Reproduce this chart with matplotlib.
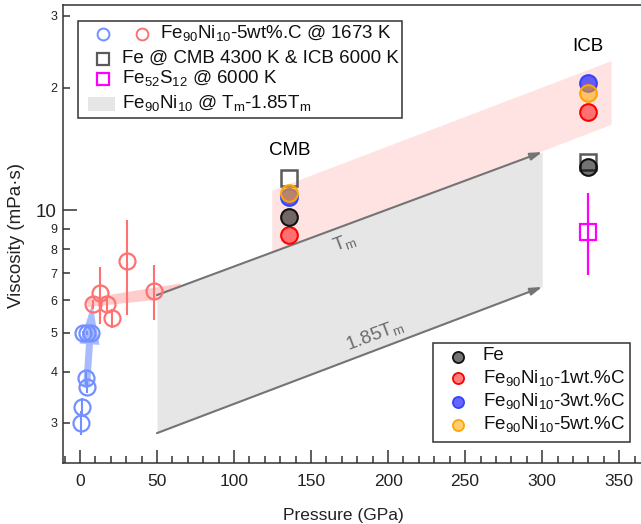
import matplotlib
matplotlib.use("Agg")
import matplotlib.pyplot as plt
from matplotlib.ticker import FixedLocator, FixedFormatter, MultipleLocator
from matplotlib.patches import Rectangle, FancyArrow
from matplotlib.transforms import IdentityTransform

plt.rcParams['font.family'] = ['Liberation Sans', 'DejaVu Sans']
plt.rcParams['mathtext.fontset'] = 'custom'
plt.rcParams['mathtext.rm'] = 'Liberation Sans'
plt.rcParams['mathtext.it'] = 'Liberation Sans:italic'
plt.rcParams['mathtext.default'] = 'regular'

# ---------------- data ----------------
blue_p = [0.5, 1.1, 3.9, 4.4, 2.2, 4.5, 7.0]
blue_v = [3.0, 3.29, 3.86, 3.68, 4.98, 4.98, 4.98]
blue_err = [0.2, 0.17, 0.15, 0.13, 0.05, 0.05, 0.05]

red_p = [8.5, 12.8, 17.3, 20.6, 30.4, 48.2]
red_v = [5.87, 6.24, 5.86, 5.42, 7.49, 6.34]
red_err_lo = [0.15, 1.0, 0.2, 0.3, 1.97, 0.97]
red_err_hi = [0.15, 1.0, 0.2, 0.3, 1.96, 0.99]

arrow_p = [4.3, 8.0]
arrow_v = [3.68, 5.9]

small_band_p = [4.4, 65.0]
small_band_lo = [5.79, 6.12]
small_band_hi = [6.08, 6.62]

big_band_p = [124.5, 344.8]
big_band_lo = [7.75, 16.25]
big_band_hi = [11.2, 23.3]

gray_band_p = [50.0, 300.0]
gray_band_tm = [6.18, 13.88]
gray_band_185 = [2.83, 6.47]

cmb_p = 136.0
icb_p = 330.0
fe_sq = [11.96, 13.14]
fe_circ = [9.60, 12.78]
c1_v = [8.68, 17.44]
c3_v = [10.78, 20.48]
c5_v = [10.99, 19.4]
fes_v = 8.84
fes_err = [[1.91], [2.15]]

ytick_minor = [3, 4, 5, 6, 7, 8, 9, 20, 30]
ytick_minor_labels = ['3', '4', '5', '6', '7', '8', '9', '2', '3']

# ---------------- figure ----------------
W, H = 641, 524
fig = plt.figure(figsize=(W / 100, H / 100), dpi=100)
L, R, T, B = 63, 650, 5, 463
ax = fig.add_axes([L / W, (H - B) / H, (R - L) / W, (B - T) / H])
ax.set_yscale('log')
ax.set_xlim(-11, 370)
ax.set_ylim(2.39, 31.9)

def px2ax(px, py):
    return ((px - L) / (R - L), (B - py) / (B - T))

# bands
ax.fill_between(big_band_p, big_band_lo, big_band_hi, color='#ff0000', alpha=0.11, lw=0, zorder=1)
ax.fill_between(small_band_p, small_band_lo, small_band_hi, color='#ff0000', alpha=0.2, lw=0, zorder=1)
ax.fill_between(gray_band_p, gray_band_185, gray_band_tm, color='#e6e6e6', lw=0, zorder=2)

for vals in (gray_band_tm, gray_band_185):
    ax.annotate('', xy=(gray_band_p[1], vals[1]), xytext=(gray_band_p[0], vals[0]),
                arrowprops=dict(arrowstyle='-|>,head_length=0.7,head_width=0.22', color='#747474',
                                lw=1.5, shrinkA=0, shrinkB=0), zorder=3)

ax.text(172, 8.3, 'T$_m$', rotation=20.5, color='#6a6a6a', fontsize=13.5,
        ha='center', va='center', zorder=3)
ax.text(191, 4.93, '1.85T$_m$', rotation=20.5, color='#6a6a6a', fontsize=13.5,
        ha='center', va='center', zorder=3)

# blue arrow (built in display space from the data end points)
(ax0, ay0) = ax.transData.transform((arrow_p[0], arrow_v[0]))
(ax1, ay1) = ax.transData.transform((arrow_p[1], arrow_v[1]))
arr = FancyArrow(ax0, ay0, ax1 - ax0, ay1 - ay0, width=7, head_width=20, head_length=41,
                 length_includes_head=True, transform=IdentityTransform(),
                 color='#6f8fff', alpha=0.6, lw=0, zorder=3)
ax.add_artist(arr)

# low-pressure data
ax.errorbar(blue_p, blue_v, yerr=blue_err, fmt='o', ms=11.5, mfc='none', mec='#7290ff',
            mew=1.6, ecolor='#7290ff', elinewidth=1.5, capsize=0, zorder=5)
ax.errorbar(red_p, red_v, yerr=[red_err_lo, red_err_hi], fmt='o', ms=11.5, mfc='none',
            mec='#ff7070', mew=1.6, ecolor='#ff7070', elinewidth=1.5, capsize=0, zorder=5)

# CMB / ICB
pts = [cmb_p, icb_p]
ax.plot(pts, fe_sq, 's', ms=11, mfc='none', mec='#5a5a5a', mew=1.8, zorder=6, ls='none')
ax.plot(pts, c3_v, 'o', ms=12, mfc=(0, 0, 1, 0.6), mec='#3344ff', mew=1.5, ls='none', zorder=6)
ax.plot(pts, c5_v, 'o', ms=12, mfc=(1, 0.65, 0, 0.55), mec='#ffa500', mew=1.5, ls='none', zorder=7)
ax.plot(pts, c1_v, 'o', ms=12, mfc=(1, 0, 0, 0.5), mec='#ff0000', mew=1.5, ls='none', zorder=7)
ax.plot(pts, fe_circ, 'o', ms=12, mfc=(0, 0, 0, 0.55), mec='#111111', mew=1.5, ls='none', zorder=7)
ax.errorbar([icb_p], [fes_v], yerr=fes_err, fmt='s', ms=11, mfc='none', mec='#ff00ff', mew=1.6,
            ecolor='#ff00ff', elinewidth=1.6, capsize=0, zorder=6)

ax.text(cmb_p, 14.0, 'CMB', fontsize=13.5, ha='center', va='center')
ax.text(icb_p, 25.2, 'ICB', fontsize=13.5, ha='center', va='center')

# axes styling
ax.xaxis.set_major_locator(MultipleLocator(50))
ax.xaxis.set_minor_locator(MultipleLocator(10))
ax.yaxis.set_major_locator(FixedLocator([10]))
ax.yaxis.set_major_formatter(FixedFormatter(['10']))
ax.yaxis.set_minor_locator(FixedLocator(ytick_minor))
ax.yaxis.set_minor_formatter(FixedFormatter(ytick_minor_labels))
ax.tick_params(axis='both', which='both', direction='in', color='#333333', width=1.1,
               top=False, right=False)
ax.tick_params(axis='x', which='major', length=9.5, labelsize=12.5, pad=8, labelcolor='#222222')
ax.tick_params(axis='x', which='minor', length=5)
ax.tick_params(axis='y', which='major', length=10, labelsize=13.5, pad=5, labelcolor='#222222')
ax.tick_params(axis='y', which='minor', length=5, labelsize=9, pad=4, labelcolor='#222222')
for s in ax.spines.values():
    s.set_color('#333333')
    s.set_linewidth(1.1)

ax.set_xlabel('Pressure (GPa)', fontsize=12.5, color='#222222')
ax.xaxis.set_label_coords(*px2ax(343, 508))
ax.set_ylabel('Viscosity (mPa·s)', fontsize=13.5, color='#222222')
ax.yaxis.set_label_coords(*px2ax(25, 236))

# legend 1 (manual)
x0, y0 = px2ax(78, 118)
x1, y1 = px2ax(402, 21)
ax.add_patch(Rectangle((x0, y0), x1 - x0, y1 - y0, transform=ax.transAxes, fill=True,
                       fc='white', ec='#333333', lw=1.1, zorder=20))
def mk(px, py, **kw):
    xx, yy = px2ax(px, py)
    ax.plot([xx], [yy], transform=ax.transAxes, clip_on=False, zorder=21, ls='none', **kw)
def tx(px, py, s, fs=13.5):
    xx, yy = px2ax(px, py)
    ax.text(xx, yy, s, transform=ax.transAxes, fontsize=fs, va='center', ha='left', zorder=21,
            color='#111111')
mk(103, 34, marker='o', ms=8.5, mfc='none', mec='#7290ff', mew=1.4)
mk(142, 34, marker='o', ms=8.5, mfc='none', mec='#ff7070', mew=1.4)
tx(160, 33, 'Fe$_{90}$Ni$_{10}$-5wt%.C @ 1673 K')
mk(103, 59, marker='s', ms=8, mfc='none', mec='#5a5a5a', mew=1.6)
tx(122, 58, 'Fe @ CMB 4300 K & ICB 6000 K')
mk(103, 79, marker='s', ms=8, mfc='none', mec='#ff00ff', mew=1.6)
tx(122, 78, 'Fe$_{52}$S$_{12}$ @ 6000 K')
px0, py0 = px2ax(88, 111)
px1, py1 = px2ax(115, 97)
ax.add_patch(Rectangle((px0, py0), px1 - px0, py1 - py0, transform=ax.transAxes,
                       fc='#e6e6e6', lw=0, zorder=21))
tx(122, 103, 'Fe$_{90}$Ni$_{10}$ @ T$_m$-1.85T$_m$')

# legend 2 (manual)
x0, y0 = px2ax(433, 442)
x1, y1 = px2ax(630, 343)
ax.add_patch(Rectangle((x0, y0), x1 - x0, y1 - y0, transform=ax.transAxes, fill=True,
                       fc='white', ec='#333333', lw=1.1, zorder=20))
mk(458, 357, marker='o', ms=8, mfc=(0, 0, 0, 0.55), mec='#111111', mew=1.3)
tx(483, 356, 'Fe')
mk(458, 378, marker='o', ms=8, mfc=(1, 0, 0, 0.5), mec='#ff0000', mew=1.3)
tx(483, 378, 'Fe$_{90}$Ni$_{10}$-1wt.%C')
mk(458, 402, marker='o', ms=8, mfc=(0, 0, 1, 0.6), mec='#3344ff', mew=1.3)
tx(483, 401, 'Fe$_{90}$Ni$_{10}$-3wt.%C')
mk(458, 425, marker='o', ms=8, mfc=(1, 0.65, 0, 0.55), mec='#ffa500', mew=1.3)
tx(483, 424, 'Fe$_{90}$Ni$_{10}$-5wt.%C')

fig.savefig('out.png', dpi=100)
